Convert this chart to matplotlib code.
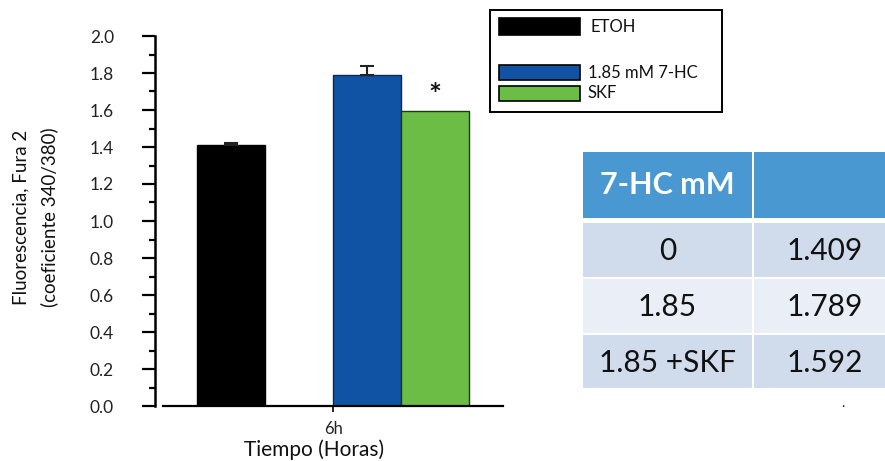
import numpy as np
import matplotlib
matplotlib.use('Agg')
import matplotlib.pyplot as plt
from matplotlib.patches import Rectangle

# series
series = ['ETOH', '1.85 mM 7-HC', 'SKF']
values = [1.409, 1.789, 1.592]
err_up = [0.015, 0.047, 0.0]
colors = ['#000000', '#1053a5', '#6bbd45']
offsets = [-1.5, 0.5, 1.5]
group_label = '6h'

# table
table_header = ['7-HC mM', '']
table_conc = ['0', '1.85', '1.85 +SKF']

W, H = 885, 461
plt.rcParams.update({
    'font.family': ['Lato', 'DejaVu Sans'],
    'font.size': 10,
})

def frac(x0, y0, x1, y1):
    # pixel box (top-left origin) -> figure fraction rect
    return [x0 / W, (H - y1) / H, (x1 - x0) / W, (y1 - y0) / H]

fig = plt.figure(figsize=(W / 100, H / 100), dpi=100)

# bar chart
ax = fig.add_axes(frac(155, 36, 503, 406))
ax.bar(offsets, values, width=1.0, color=colors,
       edgecolor=['#000000', '#0a2a55', '#1a3a10'], linewidth=1.0)
has_err = [i for i, e in enumerate(err_up) if e > 0]
ax.errorbar([offsets[i] for i in has_err], [values[i] for i in has_err],
            yerr=[[0] * len(has_err), [err_up[i] for i in has_err]],
            fmt='none', ecolor='#222222', elinewidth=1.5, capsize=5,
            capthick=1.5)
ax.text(offsets[2], 1.675, '*', ha='center', va='center',
        fontsize=22, fontweight='bold', color='#111111')

ax.set_xlim(-2.62, 2.5)
ax.set_ylim(0, 2.0)
ax.set_yticks(np.arange(0, 2.01, 0.2))
ax.set_yticks(np.arange(0, 2.01, 0.1), minor=True)
ax.set_yticklabels([f'{v:.1f}' for v in np.arange(0, 2.01, 0.2)])
ax.set_xticks([0])
ax.set_xticklabels([group_label])
ax.tick_params(axis='y', which='major', direction='out', length=9.5,
               width=1.6, pad=20, labelsize=12.5, labelcolor='#222222')
ax.tick_params(axis='y', which='minor', direction='out', length=4.5, width=1.6)
ax.tick_params(axis='x', direction='out', length=4, width=1.2, pad=7,
               labelsize=12, labelcolor='#222222')
for side in ['top', 'right']:
    ax.spines[side].set_visible(False)
ax.spines['left'].set_linewidth(1.8)
ax.spines['bottom'].set_linewidth(1.6)
ax.spines['bottom'].set_bounds(-2.5, 2.5)

fig.text(35 / W, 1 - 217 / H, 'Fluorescencia, Fura 2\n(coeficiente 340/380)',
         rotation=90, ha='center', va='center', fontsize=13.5,
         linespacing=1.7, color='#111111')
fig.text(314 / W, 1 - 450 / H, 'Tiempo (Horas)', ha='center', va='center',
         fontsize=15, color='#111111')

# legend box
lg = fig.add_axes(frac(490, 10, 722, 112))
lg.set_xlim(490, 722)
lg.set_ylim(112, 10)
lg.set_xticks([])
lg.set_yticks([])
for s in lg.spines.values():
    s.set_linewidth(1.4)
legend_rows = [(18, 35), (65, 80), (86, 101)]
for (y0, y1), name, c in zip(legend_rows, series, colors):
    lg.add_patch(Rectangle((499, y0), 81, y1 - y0, facecolor=c,
                           edgecolor='#000000', linewidth=1.2))
    lg.text(588 if name != series[0] else 590, (y0 + y1) / 2, name,
            ha='left', va='center', fontsize=12, color='#111111')

# summary table
tb = fig.add_axes(frac(583, 150, 885, 390))
tb.set_xlim(583, 885)
tb.set_ylim(390, 150)
tb.axis('off')
col_edges = [(583, 752), (754, 890)]
row_edges = [(152, 218), (223, 277), (279, 333), (335, 388)]
row_fill = ['#4a98d1', '#d0dcec', '#e9eef7', '#d0dcec']
cells = [table_header] + [[c, f'{v:.3f}'] for c, v in zip(table_conc, values)]
for r, ((y0, y1), fill) in enumerate(zip(row_edges, row_fill)):
    for c, (x0, x1) in enumerate(col_edges):
        tb.add_patch(Rectangle((x0, y0), x1 - x0, y1 - y0, facecolor=fill,
                               edgecolor='none', clip_on=False))
        txt = cells[r][c]
        if r == 0:
            tb.text((x0 + x1) / 2, (y0 + y1) / 2, txt, ha='center',
                    va='center', fontsize=22, fontweight='bold',
                    color='white')
        else:
            cx = (x0 + x1) / 2 if c == 0 else 825
            tb.text(cx, (y0 + y1) / 2 + 1, txt, ha='center', va='center',
                    fontsize=21.5, color='#111111')

fig.text(843 / W, 1 - 403 / H, '.', ha='center', va='center',
         fontsize=10, color='#111111')

fig.savefig('out.png', dpi=100)
